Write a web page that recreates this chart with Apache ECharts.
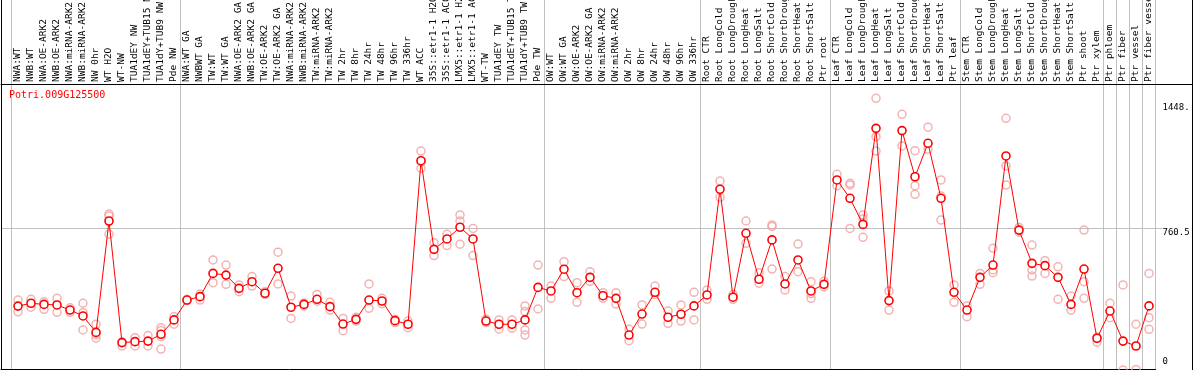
<!DOCTYPE html>
<html>
<head>
<meta charset="utf-8">
<script src="https://cdn.jsdelivr.net/npm/echarts@6/dist/echarts.min.js"></script>
<style>html,body{margin:0;padding:0;background:#fff}#c{width:1194px;height:370px}</style>
</head>
<body>
<div id="c"></div>
<script>
const title = 'Potri.009G125500';
const categories = [
 'NWA:WT','NWB:WT','NWA:OE-ARK2','NWB:OE-ARK2','NWA:miRNA-ARK2','NWB:miRNA-ARK2','NW 0hr','WT H2O','WT-NW','TUA1dEY NW','TUA1dEY+TUB15 NW','TUA1dY+TUB9 NW','Pde NW',
 'NWA:WT GA','NWBWT GA','TW:WT','TW:WT GA','NWA:OE-ARK2 GA','NWB:OE-ARK2 GA','TW:OE-ARK2','TW:OE-ARK2 GA','NWA:miRNA-ARK2 GA','NWB:miRNA-ARK2 GA','TW:miRNA-ARK2','TW:miRNA-ARK2',
 'TW 2hr','TW 8hr','TW 24hr','TW 48hr','TW 96hr','TW 336hr','WT ACC','35S::etr1-1 H2O','35S::etr1-1 ACC','LMX5::etr1-1 H2O','LMX5::etr1-1 ACC','WT-TW','TUA1dEY TW','TUA1dEY+TUB15 TW','TUA1dY+TUB9 TW','Pde TW',
 'OW:WT','OW:WT GA','OW:OE-ARK2','OW:OE-ARK2 GA','OW:miRNA-ARK2','OW:miRNA-ARK2','OW 2hr','OW 8hr','OW 24hr','OW 48hr','OW 96hr','OW 336hr',
 'Root CTR','Root LongCold','Root LongDrought','Root LongHeat','Root LongSalt','Root ShortCold','Root ShortDrought','Root ShortHeat','Root ShortSalt','Ptr root',
 'Leaf CTR','Leaf LongCold','Leaf LongDrought','Leaf LongHeat','Leaf LongSalt','Leaf ShortCold','Leaf ShortDrought','Leaf ShortHeat','Leaf ShortSalt','Ptr leaf',
 'Stem CTR','Stem LongCold','Stem LongDrought','Stem LongHeat','Stem LongSalt','Stem ShortCold','Stem ShortDrought','Stem ShortHeat','Stem ShortSalt','Ptr shoot','Ptr xylem',
 'Ptr phloem','Ptr fiber','Ptr vessel','Ptr fiber vessel'
];
// group boundaries (separator drawn before these category indices)
const groupStarts = [0,13,41,53,63,73,84,85,86,87];
const means = [
 349,364,358,355,328,297,210,799,156,161,164,200,276,
 381,399,522,513,443,478,417,549,343,358,385,346,254,279,381,376,272,253,1118,649,704,766,704,270,253,253,276,448,
 429,544,420,501,404,390,196,307,422,290,306,350,
 408,967,396,734,491,699,466,593,429,464,
 1016,919,781,1289,378,1277,1033,1210,919,422,
 328,501,566,1143,751,575,563,501,358,545,179,
 323,164,138,350
];
const replicates = [
 [381,319],[385,343],[372,332],[390,316],[340,316],[364,314,223],[253,179,200],[836,825,729],[138,160],[182,138],[193,138],[235,187,122,220],[293,253],
 [385,378],[413,381],[593,473],[566,464],[461,425],[505,455],[425,410],[634,466],[402,284],[365,350],[411,375],[369,328],[284,219],[270,290],[466,337],[390,362],[280,262],[235,270],
 [1169,1078,1110],[684,616],[729,669],[831,799,676],[760,616],[262,280],[276,228],[276,232],[350,320,223,196],[566,334],
 [455,390],[584,505],[473,369],[531,480],[420,390],[420,360],[226,166],[355,254],[455,410],[323,258],[355,270],[422,276],
 [434,385],[1011,924],[410,385],[799,681],[526,470],[778,770,545],[505,434],[677,531],[478,390,415],[480,450],
 [1046,986],[998,990,760],[831,810,713],[1448,1245,1169],[429,328],[1363,1196],[1171,986,940],[1295,1178],[1016,931,804],[461,369],
 [350,293],[522,464],[655,526,540],[1342,1090,989],[765,740],[672,540,508],[589,522],[557,385],[402,328],[751,478,390],[185,158],
 [364,288],[461,11],[253,14],[522,288,226]
];
const yTickValues = [0, 760.5, 1448];
const yTickLabels = ['0', '760.5', '1448.'];

const MONO = "'DejaVu Sans Mono', 'Liberation Mono', monospace";
const sepSet = new Set(groupStarts);
const repPoints = [];
replicates.forEach((arr, i) => arr.forEach(v => repPoints.push([i, v])));

const hiddenVal = (extra) => Object.assign({type:'value', min:0, max:1, show:true,
  axisLabel:{show:false}, axisTick:{show:false}, splitLine:{show:false},
  axisLine:{show:false, onZero:false}}, extra);
const blackLine = {show:true, onZero:false, lineStyle:{color:'#000', width:1}};
const G = (o) => Object.assign({outerBoundsMode:'none', containLabel:false}, o);

const chart = echarts.init(document.getElementById('c'), null, {renderer:'canvas'});
chart.setOption({
  animation: false,
  backgroundColor: '#fff',
  title: {text: title, left: 9, top: 90, padding: 0,
    textStyle: {color:'#ff0000', fontSize:10, fontWeight:'normal', fontFamily: MONO}},
  grid: [
    G({left:11.5, right:38.5, top:84, height:288.1}),
    G({left:1, right:1.5, top:0, bottom:0}),
    G({left:1, right:1.5, top:84, height:285}),
    G({left:1, right:38.5, top:84, height:285}),
    G({left:1, right:32, top:84.5, height:287.6})
  ],
  xAxis: [
    {gridIndex:0, type:'category', position:'top', data: categories, boundaryGap:true,
      axisLine:{show:false, onZero:false},
      axisTick:{show:true, length:84, interval:(i)=>sepSet.has(i), lineStyle:{color:'#c0c0c0', width:1}},
      splitLine:{show:true, interval:(i)=>sepSet.has(i), lineStyle:{color:'#c0c0c0', width:1}},
      axisLabel:{interval:0, rotate:-90, align:'left', verticalAlign:'middle', margin:2, fontSize:9.5, fontFamily:MONO, color:'#000'}},
    hiddenVal({gridIndex:1}),
    hiddenVal({gridIndex:2, position:'top', axisLine: blackLine}),
    hiddenVal({gridIndex:3, position:'bottom', axisLine: blackLine}),
    hiddenVal({gridIndex:4})
  ],
  yAxis: [
    {gridIndex:0, type:'value', min:0, max:1523.5, position:'right',
      axisLine:{show:false, onZero:false}, axisTick:{show:false}, splitLine:{show:false},
      axisLabel:{show:true, margin:7, customValues: yTickValues, fontSize:9, fontFamily:MONO, color:'#000',
        formatter:(v)=>{const k = yTickValues.indexOf(v); const t = yTickLabels[k];
          return k===0 ? '{b|'+t+'}' : (k===1 ? '{m|'+t+'}' : '{t|'+t+'}');},
        rich:{
          b:{fontSize:9, fontFamily:MONO, color:'#000', padding:[0,0,20,0]},
          m:{fontSize:9, fontFamily:MONO, color:'#000', padding:[9,0,0,0]},
          t:{fontSize:9, fontFamily:MONO, color:'#000', padding:[19,0,0,0]}
        }}},
    hiddenVal({gridIndex:1, position:'left', axisLine: blackLine}),
    hiddenVal({gridIndex:1, position:'right', axisLine: blackLine}),
    hiddenVal({gridIndex:2}),
    hiddenVal({gridIndex:3}),
    {gridIndex:4, type:'value', min:0, max:1521, interval:760.5,
      axisLine:{show:false, onZero:false}, axisTick:{show:false}, axisLabel:{show:false},
      splitLine:{show:true, showMinLine:false, showMaxLine:false, lineStyle:{color:'#c0c0c0', width:1}}}
  ],
  series: [
    {type:'scatter', xAxisIndex:0, yAxisIndex:0, data: repPoints, clip:false,
      symbol:'circle', symbolSize:8, z:2,
      itemStyle:{color:'rgba(0,0,0,0)', borderColor:'#f0a0a0', borderWidth:1.5}},
    {type:'line', xAxisIndex:0, yAxisIndex:0, data: means, clip:false,
      symbol:'circle', symbolSize:8, showAllSymbol:true, z:3,
      lineStyle:{color:'#ff0000', width:1},
      itemStyle:{color:'#ffffff', borderColor:'#ff0000', borderWidth:1.6}}
  ]
});
</script>
</body>
</html>
